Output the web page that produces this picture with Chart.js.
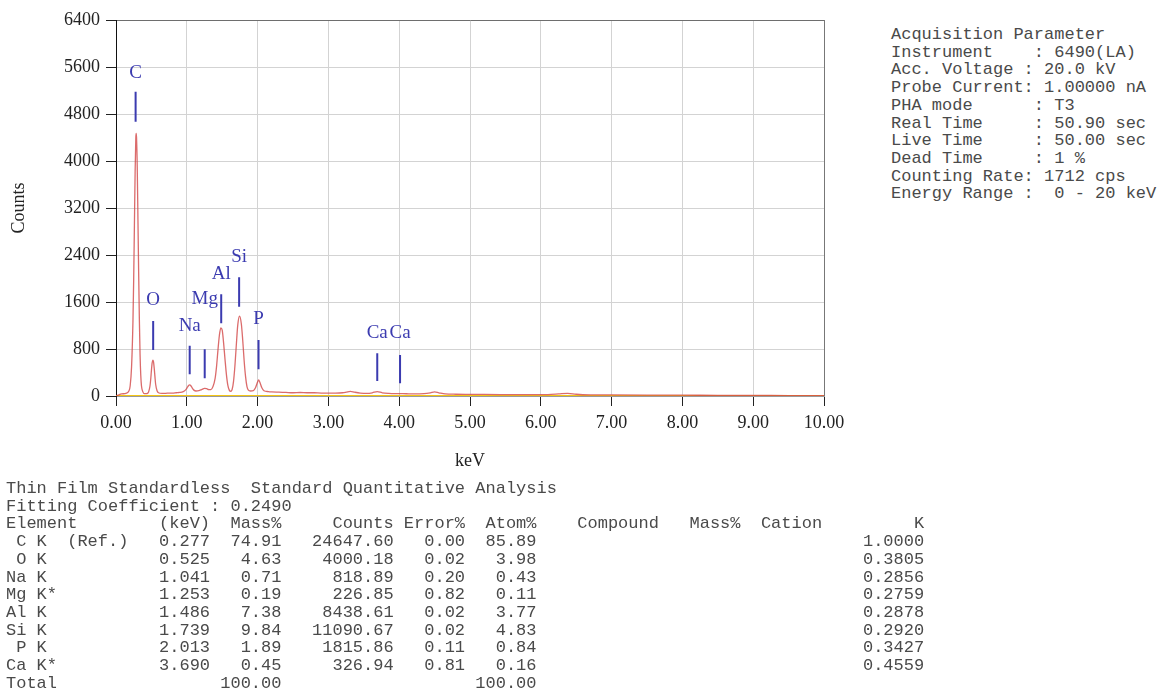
<!DOCTYPE html>
<html>
<head>
<meta charset="utf-8">
<title>EDS spectrum</title>
<script src="https://cdn.jsdelivr.net/npm/chart.js@4.4.1/dist/chart.umd.min.js"></script>
<style>
    html, body { margin: 0; padding: 0; background: #fff; }
    body { width: 1160px; height: 691px; position: relative; overflow: hidden; }
    #chartBox { position: absolute; left: 0; top: 0; width: 870px; height: 480px; }
    pre {
        position: absolute;
        margin: 0;
        font-family: "Liberation Mono", "Courier New", monospace;
        font-size: 17px;
        line-height: 17.7px;
        color: #4a4a4a;
    }
    #params { left: 891px; top: 26px; }
    #quant { left: 6px; top: 480px; }
</style>
</head>
<body>
<div id="chartBox"><canvas id="spectrum" width="870" height="480"></canvas></div>
<pre id="params"></pre>
<pre id="quant"></pre>
<script>
// Spectrum (keV / counts)
const specKeV = [
    0.00, 0.03, 0.08, 0.14, 0.18, 0.20, 0.22, 0.24, 0.25, 0.26, 0.27, 0.28, 0.285, 0.29, 0.30,
    0.31, 0.32, 0.33, 0.34, 0.35, 0.36, 0.38, 0.40, 0.43, 0.46, 0.48, 0.49, 0.50, 0.51, 0.52,
    0.53, 0.54, 0.55, 0.56, 0.58, 0.60, 0.65, 0.70, 0.75, 0.80, 0.85, 0.90, 0.95, 0.98, 1.00,
    1.02, 1.04, 1.06, 1.08, 1.10, 1.13, 1.17, 1.21, 1.25, 1.28, 1.31, 1.34, 1.37, 1.40, 1.42,
    1.44, 1.46, 1.48, 1.50, 1.52, 1.54, 1.56, 1.58, 1.60, 1.62, 1.64, 1.66, 1.68, 1.70, 1.72,
    1.745, 1.77, 1.79, 1.81, 1.83, 1.85, 1.87, 1.90, 1.94, 1.97, 2.00, 2.015, 2.03, 2.06, 2.09,
    2.15, 2.20, 2.30, 2.40, 2.50, 2.60, 2.70, 2.80, 2.90, 3.00, 3.10, 3.20, 3.25, 3.31, 3.37,
    3.45, 3.55, 3.62, 3.69, 3.76, 3.85, 4.00, 4.10, 4.20, 4.35, 4.44, 4.50, 4.56, 4.65, 4.80,
    5.00, 5.20, 5.50, 5.80, 6.10, 6.25, 6.38, 6.50, 6.70, 7.00, 7.50, 8.00, 8.50, 9.00, 9.50,
    10.00
];
const specCounts = [
    0, 15, 35, 45, 80, 170, 500, 1300, 2000, 2900, 3800, 4400, 4470, 4400, 3900,
    3000, 2100, 1300, 700, 350, 170, 70, 40, 40, 70, 170, 280, 430, 560, 610,
    580, 470, 330, 200, 90, 55, 45, 45, 50, 50, 55, 60, 75, 100, 130,
    170, 188, 170, 130, 100, 85, 90, 110, 130, 125, 110, 110, 160, 300, 500,
    780, 1030, 1160, 1120, 900, 620, 360, 180, 100, 80, 110, 250, 520, 880, 1210,
    1360, 1230, 950, 600, 330, 160, 100, 85, 90, 140, 240, 272, 240, 140, 90,
    75, 70, 65, 60, 55, 60, 55, 55, 50, 50, 50, 55, 65, 80, 65,
    50, 45, 55, 75, 55, 45, 40, 38, 35, 40, 55, 70, 55, 35, 30,
    28, 26, 24, 22, 25, 35, 45, 30, 20, 18, 16, 14, 12, 10, 8,
    6
];

// background (fitted baseline)
const bgKeV = [0, 10];
const bgCounts = [0, 0];

// element marker lines and labels
const markerNames = ['C', 'O', 'Na', 'Mg', 'Al', 'Si', 'P', 'Ca', 'Ca'];
const markerKeV = [0.277, 0.525, 1.041, 1.253, 1.486, 1.739, 2.013, 3.690, 4.012];
const markerLow = [4669, 783, 369, 301, 1237, 1520, 455, 255, 216];
const markerHigh = [5180, 1277, 856, 794, 1731, 2020, 953, 727, 698];
const markerLabelAt = [5500, 1630, 1197, 1646, 2077, 2360, 1311, 1072, 1072];

// acquisition block
const acqLines = [
    'Acquisition Parameter',
    'Instrument    : 6490(LA)',
    'Acc. Voltage : 20.0 kV',
    'Probe Current: 1.00000 nA',
    'PHA mode      : T3',
    'Real Time     : 50.90 sec',
    'Live Time     : 50.00 sec',
    'Dead Time     : 1 %',
    'Counting Rate: 1712 cps',
    'Energy Range :  0 - 20 keV'
];

// quantitative table
const elemNames = [' C K  (Ref.)', ' O K', 'Na K', 'Mg K*', 'Al K', 'Si K', ' P K', 'Ca K*'];
const elemKeV = [0.277, 0.525, 1.041, 1.253, 1.486, 1.739, 2.013, 3.690];
const massPct = [74.91, 4.63, 0.71, 0.19, 7.38, 9.84, 1.89, 0.45];
const elemCounts = [24647.60, 4000.18, 818.89, 226.85, 8438.61, 11090.67, 1815.86, 326.94];
const errorPct = [0.00, 0.02, 0.20, 0.82, 0.02, 0.02, 0.11, 0.81];
const atomPct = [85.89, 3.98, 0.43, 0.11, 3.77, 4.83, 0.84, 0.16];
const kRatio = [1.0000, 0.3805, 0.2856, 0.2759, 0.2878, 0.2920, 0.3427, 0.4559];

const serif = '"Liberation Serif", "Times New Roman", serif';

function buildTable() {
    const rows = [
        'Thin Film Standardless  Standard Quantitative Analysis',
        'Fitting Coefficient : 0.2490',
        'Element'.padEnd(15) + '(keV)' + 'Mass%'.padStart(7) + 'Counts'.padStart(11) +
            'Error%'.padStart(7) + 'Atom%'.padStart(7) + '    Compound   Mass%  Cation' + 'K'.padStart(10)
    ];
    elemNames.forEach((name, i) => {
        rows.push(
            name.padEnd(15) +
            elemKeV[i].toFixed(3).padStart(5) +
            massPct[i].toFixed(2).padStart(7) +
            elemCounts[i].toFixed(2).padStart(11) +
            errorPct[i].toFixed(2).padStart(7) +
            atomPct[i].toFixed(2).padStart(7) +
            kRatio[i].toFixed(4).padStart(38)
        );
    });
    const massTotal = '100.00', atomTotal = '100.00';
    rows.push('Total'.padEnd(20) + massTotal.padStart(7) + atomTotal.padStart(25));
    return rows.join('\n');
}

document.getElementById('params').textContent = acqLines.join('\n');
document.getElementById('quant').textContent = buildTable();

// element labels over the marker lines
const elementLabels = {
    id: 'elementLabels',
    afterDatasetsDraw(chart) {
        const { ctx, scales: { x, y } } = chart;
        ctx.save();
        ctx.font = '19px ' + serif;
        ctx.fillStyle = '#3b3bb0';
        ctx.textAlign = 'center';
        ctx.textBaseline = 'middle';
        markerNames.forEach((name, i) => {
            ctx.fillText(name, x.getPixelForValue(markerKeV[i]), y.getPixelForValue(markerLabelAt[i]));
        });
        ctx.restore();
    }
};

const spectrumPoints = specKeV.map((k, i) => ({ x: k, y: specCounts[i] }));
const bgPoints = bgKeV.map((k, i) => ({ x: k, y: bgCounts[i] }));
const markerPoints = [];
markerKeV.forEach((k, i) => {
    markerPoints.push({ x: k, y: markerLow[i] }, { x: k, y: markerHigh[i] }, { x: k, y: null });
});

new Chart(document.getElementById('spectrum'), {
    type: 'line',
    data: {
        datasets: [
            {
                label: 'Markers',
                data: markerPoints,
                borderColor: '#3b3bb0',
                borderWidth: 2,
                pointRadius: 0,
                spanGaps: false,
                tension: 0,
                order: 0
            },
            {
                label: 'Spectrum',
                data: spectrumPoints,
                borderColor: 'rgba(210, 70, 70, 0.8)',
                borderWidth: 1.3,
                pointRadius: 0,
                cubicInterpolationMode: 'monotone',
                order: 1
            },
            {
                label: 'Background',
                data: bgPoints,
                borderColor: '#f3c614',
                borderWidth: 2,
                pointRadius: 0,
                order: 2
            }
        ]
    },
    options: {
        responsive: false,
        maintainAspectRatio: false,
        animation: false,
        layout: { padding: { top: 20, right: 46, left: 0, bottom: 0 } },
        plugins: {
            legend: { display: false },
            tooltip: { enabled: false }
        },
        scales: {
            x: {
                type: 'linear',
                min: 0,
                max: 10,
                afterFit: s => { s.height = 84; },
                ticks: {
                    stepSize: 1,
                    callback: v => v.toFixed(2),
                    font: { family: serif, size: 18 },
                    color: '#222',
                    padding: 6,
                    maxRotation: 0
                },
                grid: {
                    color: c => (c.tick && c.tick.value === 10 ? '#777' : '#d3d3d3'),
                    tickColor: '#222',
                    tickLength: 10
                },
                border: { color: '#999' },
                title: {
                    display: true,
                    text: 'keV',
                    font: { family: serif, size: 18 },
                    color: '#222',
                    padding: { top: 0, bottom: 8 }
                }
            },
            y: {
                min: 0,
                max: 6400,
                afterFit: s => { s.width = 116; },
                ticks: {
                    stepSize: 800,
                    callback: v => String(v),
                    font: { family: serif, size: 18 },
                    color: '#222',
                    padding: 6
                },
                grid: {
                    color: c => (c.tick && c.tick.value === 6400 ? '#6e6e6e' : '#d3d3d3'),
                    tickColor: '#222',
                    tickLength: 10
                },
                border: { color: '#111' },
                title: {
                    display: true,
                    text: 'Counts',
                    font: { family: serif, size: 18 },
                    color: '#222',
                    padding: { top: 8, bottom: 0 }
                }
            }
        }
    },
    plugins: [elementLabels]
});
</script>
</body>
</html>
